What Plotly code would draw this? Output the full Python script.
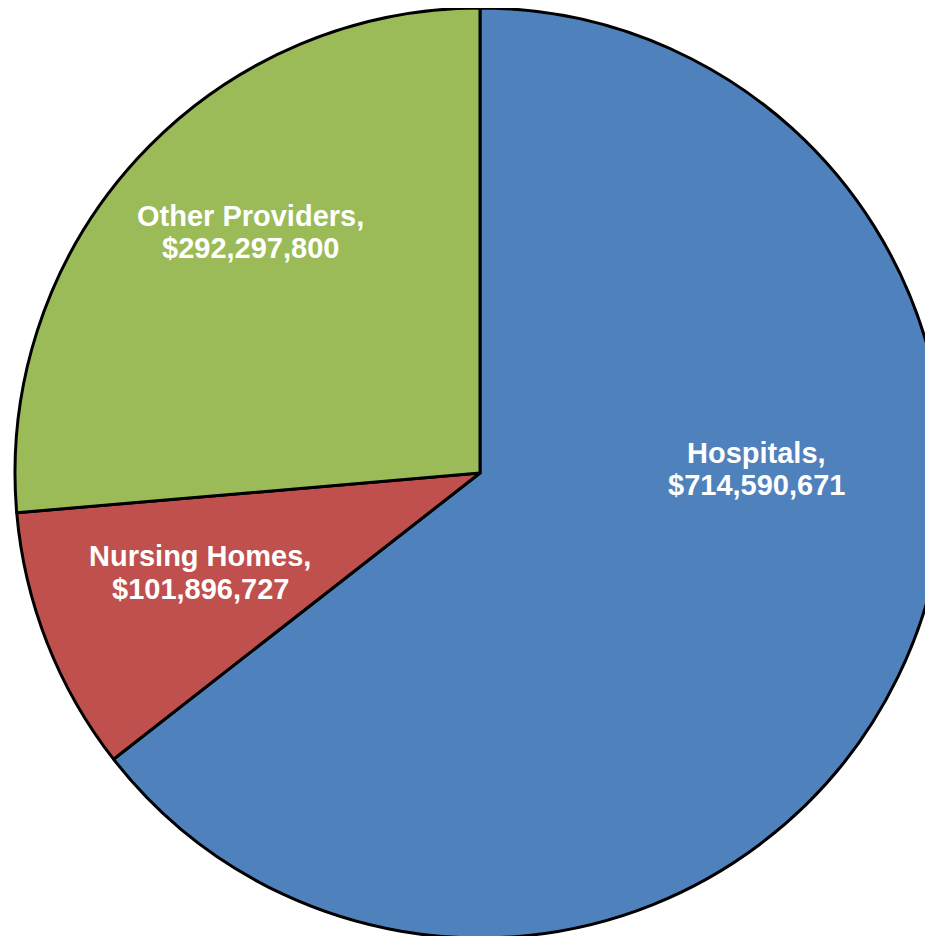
import plotly.graph_objects as go

categories = ["Hospitals", "Nursing Homes", "Other Providers"]
values = [714590671, 101896727, 292297800]
colors = ["#4F81BD", "#C0504D", "#9BBB59"]

W, H = 937, 936

fig = go.Figure(go.Pie(
    labels=categories,
    values=values,
    sort=False,
    direction="clockwise",
    rotation=0,
    marker=dict(colors=colors, line=dict(color="black", width=3)),
    textinfo="none",
    hoverinfo="label+value",
    domain=dict(x=[7 / W, 1], y=[6 / H, 1]),
    showlegend=False,
))

# label centres in pixels within the figure (x from left, y from top)
label_pos = [(748, 461), (192, 564), (242, 224)]
line_gap = 33
font = dict(family="Liberation Sans, Arial, sans-serif", size=29, color="white")
for cat, val, (px, py) in zip(categories, values, label_pos):
    for line, dy in ((f"<b>{cat},</b>", -line_gap / 2), (f"<b>${val:,}</b>", line_gap / 2)):
        fig.add_annotation(
            x=px / W, y=1 - (py + dy) / H, xref="paper", yref="paper",
            text=line, showarrow=False, font=font,
            xanchor="center", yanchor="middle",
        )

fig.update_layout(
    width=W, height=H,
    margin=dict(l=0, r=0, t=0, b=0),
    paper_bgcolor="white", plot_bgcolor="white",
)
fig.write_html("out.html")
